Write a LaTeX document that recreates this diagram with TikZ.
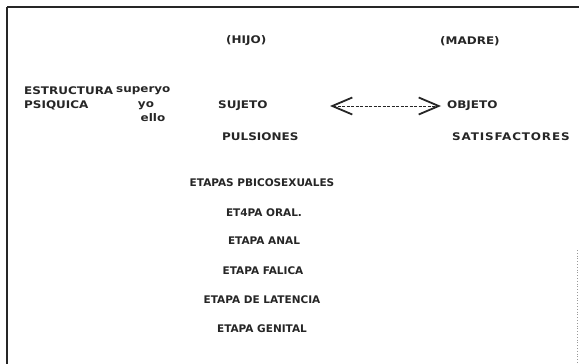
\documentclass[tikz,border=0pt]{standalone}
\usepackage{fontspec}
\setmainfont{DejaVu Sans}
\newfontfamily\widefont{DejaVu Sans}[FakeStretch=1.14]
\usetikzlibrary{arrows.meta}
\tikzset{
  lbl/.style={font=\fontsize{10.5}{12}\selectfont\bfseries, inner sep=0pt, text=black!85},
  wlbl/.style={font=\widefont\fontsize{10.5}{12}\selectfont\bfseries, inner sep=0pt, text=black!85},
  frame/.style={line width=1.8pt, black!85},
  conn/.style={line width=0.9pt, dash pattern=on 3pt off 1.5pt, black!85,
    {Straight Barb[length=20pt,width=17pt,line width=1.8pt]}-{Straight Barb[length=20pt,width=17pt,line width=1.8pt]}}
}
\begin{document}
\begin{tikzpicture}[x=1pt,y=-1pt]
\useasboundingbox (0,0) rectangle (579,364);
\draw[frame] (7,7) -- (579,7);
\draw[frame] (7,7) -- (7,364);
\draw[black!40, line width=0.8pt, dotted] (577,250) -- (577,364);

\node[wlbl, anchor=west] (hijo) at (226,41) {(HIJO)};
\node[wlbl, anchor=west] (madre) at (440,41) {(MADRE)};

\node[wlbl, anchor=west] (estr) at (24,91) {ESTRUCTURA};
\node[wlbl, anchor=west] (psiq) at (24,105) {PSIQUICA};
\node[wlbl, anchor=west] (super) at (116,91) {superyo};
\node[wlbl] (yo) at (146,106) {yo};
\node[wlbl] (ello) at (153,118) {ello};

\node[wlbl, anchor=west] (sujeto) at (218,106) {SUJETO};
\node[wlbl, anchor=west] (objeto) at (447,106) {OBJETO};
\coordinate (al) at (330,106);
\coordinate (ar) at (441,106);
\draw[conn] (al) -- (ar);

\node[wlbl, anchor=west] (puls) at (222,137) {PULSIONES};
\node[wlbl, anchor=west] (satis) at (452,137) {\addfontfeature{LetterSpace=8}SATISFACTORES};

\node[lbl] (etapas) at (262,183) {ETAPAS PBICOSEXUALES};
\node[lbl] (oral) at (264,213) {ET4PA ORAL.};
\node[lbl] (anal) at (264,241) {ETAPA ANAL};
\node[lbl] (falica) at (263,271) {ETAPA FALICA};
\node[lbl] (latencia) at (262,300) {ETAPA DE LATENCIA};
\node[lbl] (genital) at (262,329) {ETAPA GENITAL};
\end{tikzpicture}
\end{document}
